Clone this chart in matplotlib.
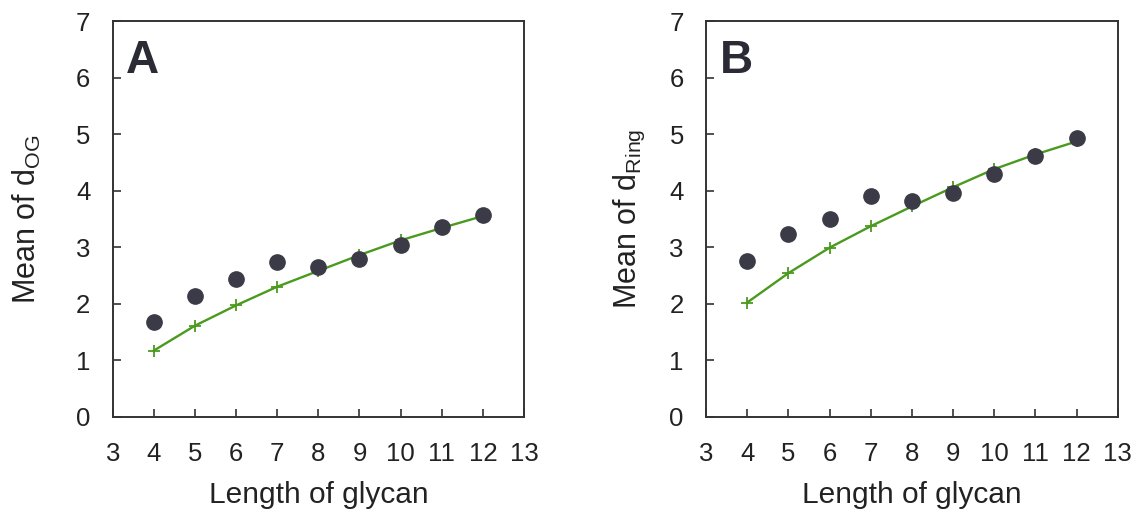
import matplotlib
matplotlib.use('Agg')
import matplotlib.pyplot as plt

plt.rcParams['font.family'] = ['Liberation Sans', 'DejaVu Sans']
plt.rcParams['mathtext.default'] = 'regular'

# Data
glycan_length = [4, 5, 6, 7, 8, 9, 10, 11, 12]

og_mean = [1.68, 2.13, 2.43, 2.73, 2.65, 2.79, 3.03, 3.35, 3.57]
og_fit = [1.17, 1.61, 1.97, 2.30, 2.58, 2.86, 3.12, 3.34, 3.55]

ring_mean = [2.76, 3.23, 3.50, 3.90, 3.81, 3.95, 4.30, 4.61, 4.94]
ring_fit = [2.02, 2.54, 2.99, 3.37, 3.72, 4.06, 4.38, 4.64, 4.87]

panels = [
    ('A', 'Mean of d$_{OG}$', og_mean, og_fit),
    ('B', 'Mean of d$_{Ring}$', ring_mean, ring_fit),
]

dot_color = '#3b3b48'
line_color = '#4a9a1e'
axis_color = '#333333'

fig = plt.figure(figsize=(11.36, 5.14), dpi=100)
ax_pos = [[0.0992, 0.1893, 0.3621, 0.7697],
          [0.6215, 0.1893, 0.3624, 0.7697]]
ylabel_pads = [24, 16]

for pos, pad, (letter, ylab, mean, fit) in zip(ax_pos, ylabel_pads, panels):
    ax = fig.add_axes(pos)
    ax.plot(glycan_length, fit, color=line_color, lw=1.7, marker='+',
            ms=9, mew=1.3, zorder=2)
    ax.plot(glycan_length, mean, 'o', color=dot_color, ms=11, zorder=3)

    ax.set_xlim(3, 13)
    ax.set_ylim(0, 7)
    ax.set_xticks(range(3, 14))
    ax.set_yticks(range(0, 8))
    ax.tick_params(direction='in', length=6, width=1.2, colors=axis_color,
                   labelcolor='#222222', labelsize=18.5)
    ax.tick_params(axis='x', pad=18)
    ax.tick_params(axis='y', pad=16)
    for s in ax.spines.values():
        s.set_color(axis_color)
        s.set_linewidth(1.4)

    ax.set_xlabel('Length of glycan', fontsize=21.5, labelpad=11, color='#222222')
    ax.set_ylabel(ylab, fontsize=22, labelpad=pad, color='#222222')
    ax.text(0.033, 0.955, letter, transform=ax.transAxes, fontsize=33,
            fontweight='bold', color='#2b2b36', va='top', ha='left')

fig.savefig('out.png', dpi=100)
